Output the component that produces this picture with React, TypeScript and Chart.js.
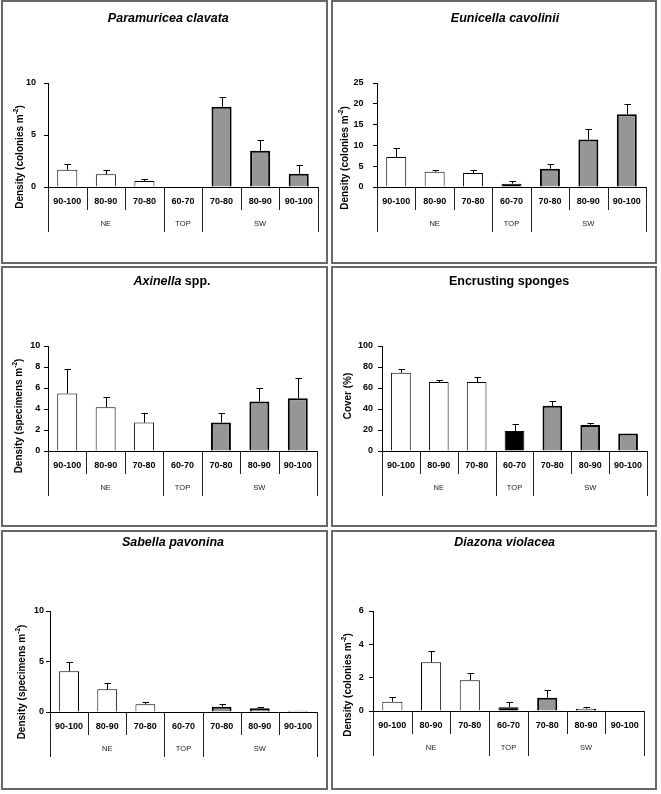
import React, { useEffect, useRef } from 'react';
import { Chart, registerables } from 'chart.js';

Chart.register(...registerables);

// ---------- DATA ----------
const depthLabels = ['90-100', '80-90', '70-80', '60-70', '70-80', '80-90', '90-100'];
const groupLabels = ['NE', 'TOP', 'SW'];
const groupSizes = [3, 1, 3];

const paramuriceaMean = [1.65, 1.22, 0.58, 0, 7.72, 3.49, 1.28];
const paramuriceaSE = [0.53, 0.44, 0.22, 0, 0.96, 1.03, 0.81];

const eunicellaMean = [7.2, 3.68, 3.36, 0.8, 4.4, 11.4, 17.5];
const eunicellaSE = [2.1, 0.48, 0.74, 0.64, 1.2, 2.5, 2.4];

const axinellaMean = [5.48, 4.17, 2.71, 0, 2.71, 4.72, 5.03];
const axinellaSE = [2.29, 0.93, 0.92, 0, 0.92, 1.24, 1.91];

const spongesMean = [74.5, 65.6, 65.6, 19.1, 43, 24.8, 16.6];
const spongesSE = [3.2, 1.6, 5.1, 6.4, 4.5, 1.9, 0];

const sabellaMean = [4.04, 2.25, 0.76, 0, 0.53, 0.37, 0.13];
const sabellaSE = [0.96, 0.6, 0.23, 0, 0.29, 0.1, 0];

const diazonaMean = [0.56, 2.92, 1.84, 0.22, 0.8, 0.14, 0];
const diazonaSE = [0.28, 0.68, 0.42, 0.3, 0.44, 0.12, 0];

const titles = [
  [{ t: 'Paramuricea clavata', i: true }],
  [{ t: 'Eunicella cavolinii', i: true }],
  [{ t: 'Axinella', i: true }, { t: ' spp.', i: false }],
  [{ t: 'Encrusting sponges', i: false }],
  [{ t: 'Sabella pavonina', i: true }],
  [{ t: 'Diazona violacea', i: true }],
];
const yTitles = [
  ['Density (colonies m', '-2', ')'],
  ['Density (colonies m', '-2', ')'],
  ['Density (specimens m', '-2', ')'],
  ['Cover (%)', '', ''],
  ['Density (specimens m', '-2', ')'],
  ['Density (colonies m', '-2', ')'],
];
const yMaxes = [10, 25, 10, 100, 10, 6];
const ySteps = [5, 5, 2, 20, 5, 2];
const means = [paramuriceaMean, eunicellaMean, axinellaMean, spongesMean, sabellaMean, diazonaMean];
const ses = [paramuriceaSE, eunicellaSE, axinellaSE, spongesSE, sabellaSE, diazonaSE];

// ---------- LAYOUT ----------
const LAYOUT = [
  { box: [1, 0, 327, 264], area: [47, 317, 83, 187], title: [167.3, 19], yt: [19, 157], pad: 8 },
  { box: [331, 0, 326, 264], area: [46, 315, 83, 187], title: [174, 19], yt: [14, 158], pad: 9.4 },
  { box: [1, 266, 327, 261], area: [47, 316, 80, 185], title: [171, 15.7], yt: [18, 150], pad: 3.8 },
  { box: [331, 266, 326, 261], area: [51, 316, 80, 185], title: [178, 15.7], yt: [17, 130], pad: 5 },
  { box: [1, 530, 327, 260], area: [49, 316, 81, 182], title: [172, 13], yt: [21, 152], pad: 2 },
  { box: [331, 530, 326, 260], area: [42, 313, 81, 181], title: [173.7, 13], yt: [17, 155], pad: 5.3 },
];

const FONT = "'Liberation Sans', Arial, Helvetica, sans-serif";

function groupIndexOf(i: number): number {
  let acc = 0;
  for (let g = 0; g < groupSizes.length; g++) {
    acc += groupSizes[g];
    if (i < acc) return g;
  }
  return groupSizes.length - 1;
}

function Panel({ idx }: { idx: number }) {
  const ref = useRef<HTMLCanvasElement | null>(null);
  const L = LAYOUT[idx];
  const [bx, by, bw, bh] = L.box;

  useEffect(() => {
    const canvas = ref.current;
    if (!canvas) return;
    const [al, ar, at, ab] = L.area;
    const mean = means[idx];
    const se = ses[idx];
    const fills = depthLabels.map((_, i) => {
      const g = groupIndexOf(i);
      return g === 0 ? '#ffffff' : g === 1 ? '#000000' : '#969696';
    });
    const widths = depthLabels.map((_, i) => (groupIndexOf(i) === 2 ? 2 : 1));

    const decor = {
      id: 'decor' + idx,
      afterDraw(chart: any) {
        const ctx = chart.ctx as CanvasRenderingContext2D;
        const xs = chart.scales.x;
        const ys = chart.scales.y;
        const area = chart.chartArea;
        ctx.save();
        // error bars
        ctx.strokeStyle = '#000';
        ctx.lineWidth = 1;
        mean.forEach((m, i) => {
          const e = se[i];
          if (!e) return;
          const x = Math.round(xs.getPixelForValue(i)) + 0.5;
          const y0 = ys.getPixelForValue(m);
          const y1 = Math.round(ys.getPixelForValue(m + e)) + 0.5;
          ctx.beginPath();
          ctx.moveTo(x, y0);
          ctx.lineTo(x, y1);
          ctx.moveTo(x - 3, y1);
          ctx.lineTo(x + 3.5, y1);
          ctx.stroke();
        });
        // category separators
        const longB = new Set<number>([0]);
        let acc = 0;
        groupSizes.forEach((s) => {
          acc += s;
          longB.add(acc);
        });
        ctx.strokeStyle = '#222';
        for (let i = 0; i <= depthLabels.length; i++) {
          const x = Math.round(xs.getPixelForValue(i - 0.5)) + 0.5;
          const len = longB.has(i) ? 45 : 23;
          ctx.beginPath();
          ctx.moveTo(x, area.bottom);
          ctx.lineTo(x, area.bottom + len);
          ctx.stroke();
        }
        // group labels
        ctx.fillStyle = '#222';
        ctx.font = `7.5px ${FONT}`;
        ctx.textAlign = 'center';
        ctx.textBaseline = 'middle';
        let from = 0;
        groupLabels.forEach((g, gi) => {
          const to = from + groupSizes[gi];
          const x0 = xs.getPixelForValue(from - 0.5);
          const x1 = xs.getPixelForValue(to - 0.5);
          ctx.fillText(g, (x0 + x1) / 2, area.bottom + 37);
          from = to;
        });
        // title
        ctx.fillStyle = '#000';
        ctx.textAlign = 'left';
        const parts = titles[idx];
        const fontFor = (it: boolean) => `${it ? 'italic ' : ''}bold 12.5px ${FONT}`;
        let total = 0;
        parts.forEach((p) => {
          ctx.font = fontFor(p.i);
          total += ctx.measureText(p.t).width;
        });
        let tx = L.title[0] - total / 2;
        parts.forEach((p) => {
          ctx.font = fontFor(p.i);
          ctx.fillText(p.t, tx, L.title[1]);
          tx += ctx.measureText(p.t).width;
        });
        // y title (rotated)
        const [main, sup, end] = yTitles[idx];
        const mainFont = `bold 10px ${FONT}`;
        const supFont = `bold 6.5px ${FONT}`;
        ctx.font = mainFont;
        const wMain = ctx.measureText(main).width;
        const wEnd = ctx.measureText(end).width;
        ctx.font = supFont;
        const wSup = ctx.measureText(sup).width;
        const tw = wMain + wSup + wEnd;
        ctx.translate(L.yt[0], L.yt[1]);
        ctx.rotate(-Math.PI / 2);
        let px = -tw / 2;
        ctx.font = mainFont;
        ctx.fillText(main, px, 0);
        px += wMain;
        if (sup) {
          ctx.font = supFont;
          ctx.fillText(sup, px, -3.5);
          px += wSup;
        }
        ctx.font = mainFont;
        ctx.fillText(end, px, 0);
        ctx.restore();
      },
    };

    const chart = new Chart(canvas, {
      type: 'bar',
      data: {
        labels: depthLabels,
        datasets: [
          {
            data: mean,
            backgroundColor: fills,
            borderColor: '#000000',
            borderWidth: widths,
            barPercentage: 0.52,
            categoryPercentage: 1,
          },
        ],
      },
      options: {
        animation: false,
        responsive: false,
        maintainAspectRatio: false,
        devicePixelRatio: 1,
        layout: { padding: { top: at, right: bw - ar, left: 0, bottom: 0 } },
        plugins: {
          legend: { display: false },
          tooltip: { enabled: false },
          title: { display: false },
        },
        scales: {
          x: {
            type: 'category',
            offset: true,
            grid: { display: false, drawTicks: false },
            border: { display: true, color: '#000', width: 1 },
            ticks: {
              color: '#000',
              font: { family: FONT, size: 9, weight: 'bold' },
              padding: 9.6,
              maxRotation: 0,
              autoSkip: false,
            },
            afterFit: (s: any) => {
              s.height = bh - ab;
            },
          },
          y: {
            min: 0,
            max: yMaxes[idx],
            ticks: {
              stepSize: ySteps[idx],
              color: '#000',
              font: { family: FONT, size: 9, weight: 'bold' },
              padding: L.pad,
            },
            grid: {
              display: true,
              drawOnChartArea: false,
              drawTicks: true,
              tickLength: 4,
              color: '#000',
              tickColor: '#000',
            },
            border: { display: true, color: '#000', width: 1 },
            afterFit: (s: any) => {
              s.width = al;
            },
          },
        },
      } as any,
      plugins: [decor as any],
    });
    return () => chart.destroy();
  }, [idx]);

  return (
    <>
      <canvas
        ref={ref}
        width={bw}
        height={bh}
        style={{ position: 'absolute', left: bx, top: by, width: bw, height: bh }}
      />
      <div
        style={{
          position: 'absolute',
          left: bx,
          top: by,
          width: bw,
          height: bh,
          boxSizing: 'border-box',
          border: '2px solid #686868',
          pointerEvents: 'none',
        }}
      />
    </>
  );
}

export default function App() {
  return (
    <div
      style={{
        position: 'absolute',
        left: 0,
        top: 0,
        width: 661,
        height: 794,
        background: '#ffffff',
        overflow: 'hidden',
      }}
    >
      {LAYOUT.map((_, i) => (
        <Panel key={i} idx={i} />
      ))}
    </div>
  );
}
